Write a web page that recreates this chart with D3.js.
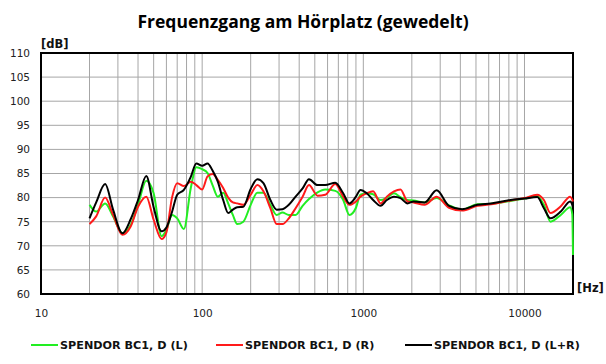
<!DOCTYPE html>
<html>
<head>
<meta charset="utf-8">
<script src="https://cdn.jsdelivr.net/npm/d3@7"></script>
<style>
  body { margin: 0; background: #fff; }
  svg { display: block; }
  .tick text { font-family: "DejaVu Sans", sans-serif; font-size: 10.5px; fill: #222; }
  .unit { font-family: "DejaVu Sans", sans-serif; font-weight: bold; font-size: 11.5px; fill: #111; }
  .legend-text { font-family: "DejaVu Sans", sans-serif; font-weight: bold; font-size: 11.2px; fill: #111; }
</style>
</head>
<body>
<div class="container"></div>
<script>
var freqs = [20, 22, 25, 28, 32, 36, 40, 45, 50, 56, 60, 65, 70, 77, 85, 92, 100, 108, 116, 125,
  135, 145, 155, 165, 180, 200, 220, 240, 265, 290, 315, 345, 380, 420, 460, 520, 580, 670, 750, 820,
  900, 960, 1050, 1150, 1280, 1400, 1550, 1700, 1880, 2050, 2400, 2850, 3400, 4100, 5100, 6200, 8200, 10000,
  12000, 13200, 14500, 16800, 19200, 19800, 20000];

var left = [78.5, 77.1, 78.8, 76.1, 72.6, 74.3, 78.5, 83.5, 80.9, 72.0, 73.3, 76.4, 75.7, 73.5, 82.0, 86.3, 85.9, 85.1, 82.6, 80.2,
  81.0, 78.8, 76.4, 74.5, 75.0, 78.5, 81.0, 81.0, 78.5, 76.4, 76.9, 76.4, 76.4, 78.3, 79.7, 81.1, 81.7, 81.4, 79.5, 76.4,
  77.9, 80.6, 80.9, 80.7, 79.5, 80.0, 80.9, 80.1, 79.5, 79.4, 79.0, 79.9, 78.4, 77.5, 78.6, 78.7, 79.3, 79.8,
  80.3, 78.5, 75.0, 76.4, 78.0, 76.5, 68.1];

var right = [74.5, 76.1, 80.0, 76.4, 72.3, 74.0, 78.1, 80.2, 75.4, 71.4, 72.8, 80.0, 83.0, 82.4, 83.3, 82.6, 81.7, 84.4, 84.9, 83.7,
  82.0, 80.0, 79.0, 78.8, 78.5, 80.6, 82.6, 81.3, 77.8, 74.5, 74.5, 75.7, 77.8, 80.2, 82.6, 80.4, 80.6, 82.8, 80.2, 78.5,
  79.2, 80.2, 80.9, 81.3, 78.8, 80.2, 81.3, 81.7, 79.2, 79.0, 78.5, 80.2, 77.9, 77.3, 78.3, 78.6, 79.4, 79.9,
  80.6, 79.5, 76.8, 78.2, 80.2, 79.6, 79.2];

var both = [75.7, 79.0, 82.8, 77.5, 72.6, 75.5, 79.5, 84.5, 78.0, 73.0, 73.8, 77.0, 80.6, 81.6, 84.3, 87.1, 86.6, 87.1, 85.6, 83.3,
  79.5, 76.8, 77.5, 78.0, 78.1, 81.8, 83.8, 83.0, 79.5, 77.5, 77.6, 78.5, 80.2, 81.9, 83.8, 82.6, 82.6, 83.1, 80.9, 78.8,
  80.2, 81.6, 80.9, 79.5, 78.3, 79.5, 80.2, 79.9, 78.8, 79.2, 79.0, 81.5, 78.3, 77.6, 78.5, 78.8, 79.5, 79.8,
  80.1, 77.8, 75.7, 77.1, 79.2, 78.5, 77.8];

var seriesNames = ["SPENDOR BC1, D (L)", "SPENDOR BC1, D (R)", "SPENDOR BC1, D (L+R)"];
var seriesColors = ["#22ee22", "#ff1a1a", "#000000"];
var yTicks = [60, 65, 70, 75, 80, 85, 90, 95, 100, 105, 110];
var xLabels = [10, 100, 1000, 10000];
var title = "Frequenzgang am Hörplatz (gewedelt)";

var W = 606, H = 364;
var svg = d3.select(".container").append("svg")
  .attr("width", W).attr("height", H);

var x = d3.scaleLog().domain([10, 20000]).range([41, 573]);
var y = d3.scaleLinear().domain([60, 110]).range([294, 53]);

// title
svg.append("text")
  .attr("x", 303).attr("y", 28)
  .attr("text-anchor", "middle")
  .style("font-family", "'Open Sans', sans-serif")
  .style("font-weight", "bold")
  .style("font-size", "17.5px")
  .text(title);

// grid lines
var minor = [];
[10, 100, 1000].forEach(function(dec) {
  for (var k = 2; k <= 9; k++) minor.push(k * dec);
});
minor.push(100, 1000, 10000);

svg.append("g").selectAll("line.vg")
  .data(minor).enter().append("line")
  .attr("x1", d => x(d)).attr("x2", d => x(d))
  .attr("y1", y(110)).attr("y2", y(60))
  .attr("stroke", "#a6a6a6").attr("stroke-width", 1);

svg.append("g").selectAll("line.hg")
  .data(yTicks.slice(1, -1)).enter().append("line")
  .attr("x1", x(10)).attr("x2", x(20000))
  .attr("y1", d => y(d)).attr("y2", d => y(d))
  .attr("stroke", "#a6a6a6").attr("stroke-width", 1);

// axes labels
var yAxis = svg.append("g")
  .attr("transform", "translate(" + 33 + ",0)")
  .call(d3.axisLeft(y).tickValues(yTicks).tickSize(0).tickFormat(d3.format("d")));
yAxis.select(".domain").remove();

var xAxis = svg.append("g")
  .attr("transform", "translate(0," + 307 + ")")
  .call(d3.axisBottom(x).tickValues(xLabels).tickSize(0).tickFormat(d3.format("d")));
xAxis.select(".domain").remove();

svg.append("text").attr("class", "unit")
  .attr("x", 41).attr("y", 48).text("[dB]");
svg.append("text").attr("class", "unit")
  .attr("x", 577).attr("y", 292).text("[Hz]");

// frame
svg.append("rect")
  .attr("x", x(10)).attr("y", y(110))
  .attr("width", x(20000) - x(10)).attr("height", y(60) - y(110))
  .attr("fill", "none").attr("stroke", "#000").attr("stroke-width", 2);

// curves
var line = d3.line()
  .x((d, i) => x(freqs[i]))
  .y(d => y(d))
  .curve(d3.curveMonotoneX);

[left, right, both].forEach(function(vals, i) {
  svg.append("path")
    .datum(vals)
    .attr("fill", "none")
    .attr("stroke", seriesColors[i])
    .attr("stroke-width", 2)
    .attr("stroke-linejoin", "round")
    .attr("d", line);
});

// legend
var legendX = [31, 216, 405];
seriesNames.forEach(function(name, i) {
  svg.append("line")
    .attr("x1", legendX[i]).attr("x2", legendX[i] + 27)
    .attr("y1", 345).attr("y2", 345)
    .attr("stroke", seriesColors[i]).attr("stroke-width", 2);
  svg.append("text").attr("class", "legend-text")
    .attr("x", legendX[i] + 29).attr("y", 349)
    .text(name);
});
</script>
</body>
</html>
